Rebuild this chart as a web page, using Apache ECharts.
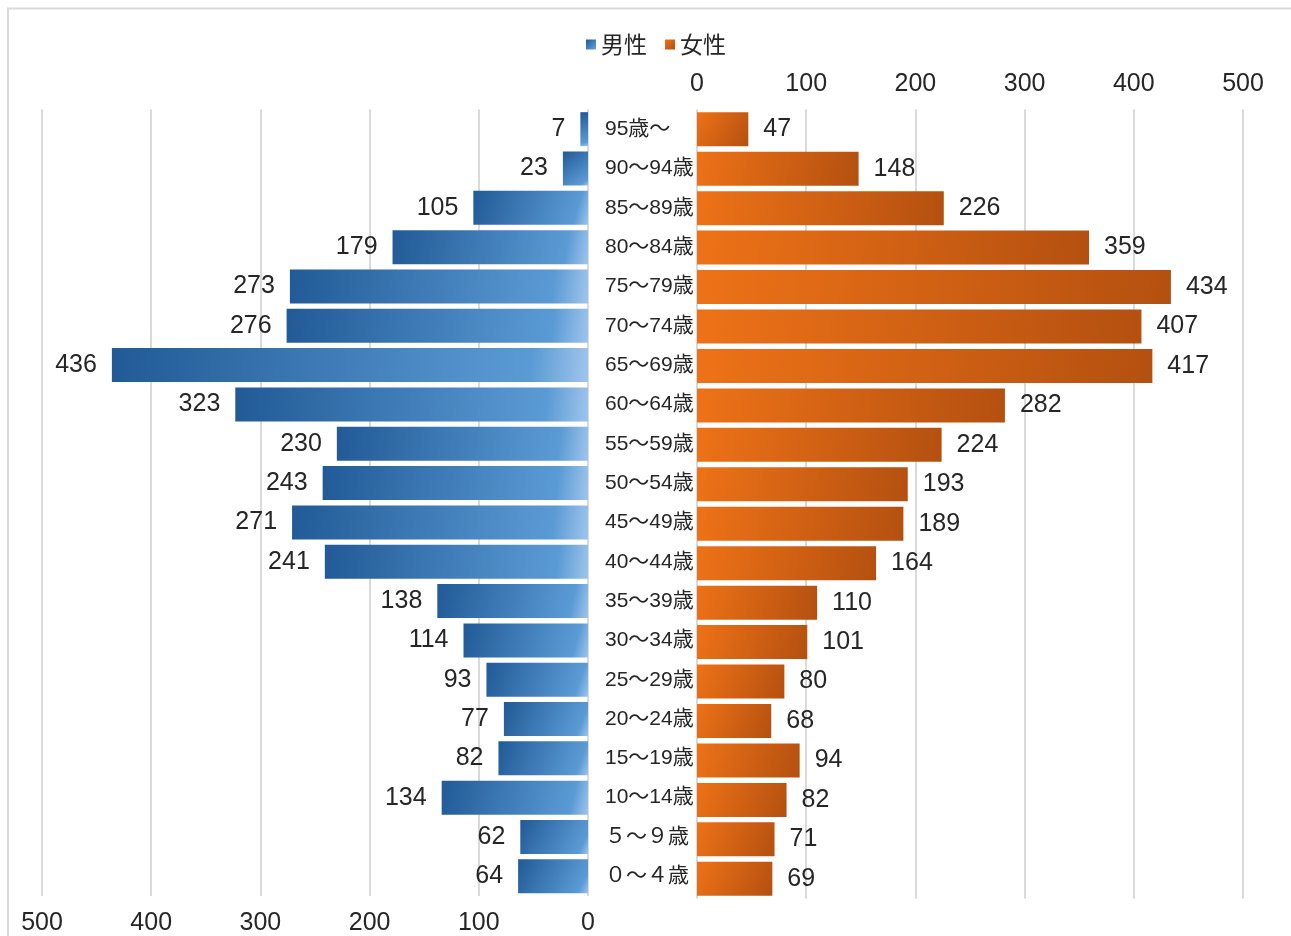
<!DOCTYPE html>
<html><head><meta charset="utf-8">
<script src="https://cdn.jsdelivr.net/npm/echarts@6/dist/echarts.min.js"></script>
<style>html,body{margin:0;padding:0;background:#fff}#c{width:1291px;height:936px}</style>
</head><body><div id="c"></div>
<script>
const categories = ['95歳～','90～94歳','85～89歳','80～84歳','75～79歳','70～74歳','65～69歳','60～64歳','55～59歳','50～54歳','45～49歳','40～44歳','35～39歳','30～34歳','25～29歳','20～24歳','15～19歳','10～14歳','５～９歳','０～４歳'];
const male = [7,23,105,179,273,276,436,323,230,243,271,241,138,114,93,77,82,134,62,64];
const female = [47,148,226,359,434,407,417,282,224,193,189,164,110,101,80,68,94,82,71,69];
const seriesNames = ['男性','女性'];
const axisMax = 500;
const axisStep = 100;

const NUMFONT = '"Liberation Sans","Noto Sans CJK JP",sans-serif';
const CJKFONT = '"Noto Sans CJK JP",sans-serif';
const gridLine = {show:true, lineStyle:{color:'#dadada', width:2}};
const blue = {type:'linear', x:0, y:0, x2:1, y2:1, colorStops:[
  {offset:0, color:'#215a96'},{offset:0.88, color:'#5b9bd5'},{offset:1, color:'#9fc5ec'}]};
const orange = {type:'linear', x:0, y:0, x2:1, y2:1, colorStops:[
  {offset:0, color:'#ee7217'},{offset:1, color:'#b45010'}]};

const numText = {fontFamily:NUMFONT, fontSize:25, color:'#262626'};

const chart = echarts.init(document.getElementById('c'));
chart.setOption({
  animation:false,
  backgroundColor:'#fff',
  graphic:[{type:'rect', shape:{x:8, y:8.5, width:1400, height:1000}, style:{fill:'none', stroke:'#d9d9d9', lineWidth:2}, silent:true, z:-1}],
  legend:{
    left:581, top:28, itemWidth:10, itemHeight:10, itemGap:18, icon:'rect',
    textStyle:{fontFamily:CJKFONT, fontSize:23, color:'#262626'},
    data:seriesNames
  },
  grid:[
    {left:42, width:546, top:109.5, height:789},
    {left:697, width:546, top:109.5, height:789}
  ],
  xAxis:[
    {gridIndex:0, type:'value', inverse:true, min:0, max:axisMax, interval:axisStep, position:'bottom',
     axisLine:{show:false}, axisTick:{show:false}, splitLine:gridLine,
     axisLabel:Object.assign({margin:15}, numText)},
    {gridIndex:1, type:'value', min:0, max:axisMax, interval:axisStep, position:'top',
     axisLine:{show:false}, axisTick:{show:false}, splitLine:gridLine,
     axisLabel:Object.assign({margin:13}, numText)}
  ],
  yAxis:[
    {gridIndex:0, type:'category', data:categories, inverse:true, position:'right',
     axisLine:{show:false}, axisTick:{show:false},
     axisLabel:{margin:17, align:'left', fontFamily:NUMFONT, fontSize:21, color:'#262626'}},
    {gridIndex:1, type:'category', data:categories, inverse:true,
     axisLine:{show:false}, axisTick:{show:false}, axisLabel:{show:false}}
  ],
  series:[
    {name:seriesNames[0], type:'bar', xAxisIndex:0, yAxisIndex:0, data:male, barWidth:34,
     itemStyle:{color:blue},
     label:Object.assign({show:true, position:'left', distance:15}, numText)},
    {name:seriesNames[1], type:'bar', xAxisIndex:1, yAxisIndex:1, data:female, barWidth:34,
     itemStyle:{color:orange},
     label:Object.assign({show:true, position:'right', distance:15}, numText)}
  ]
});
</script></body></html>
